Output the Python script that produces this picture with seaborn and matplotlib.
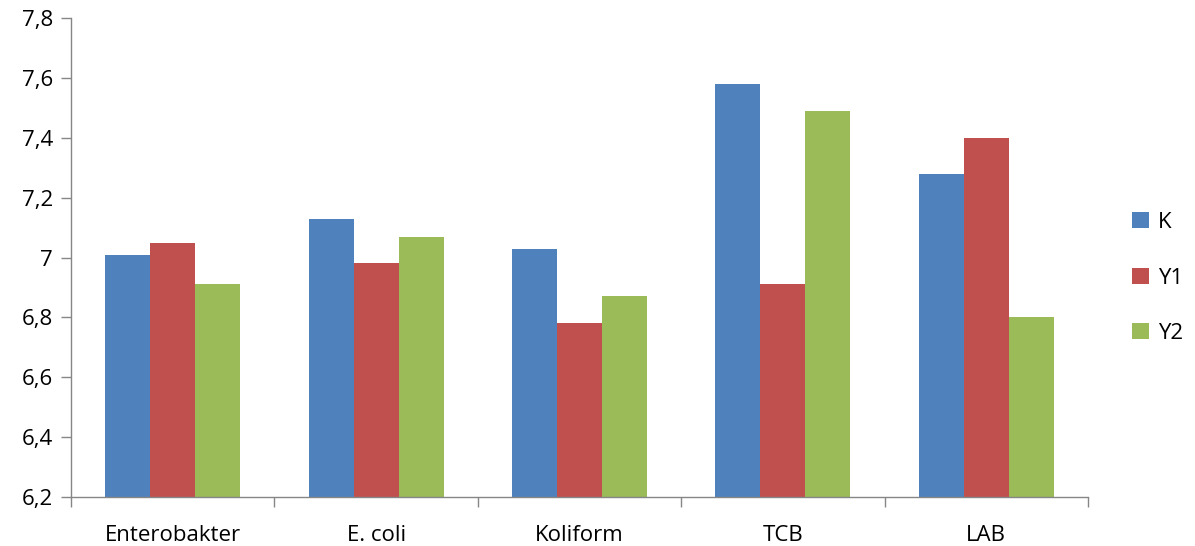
import matplotlib
matplotlib.use("Agg")
import matplotlib.pyplot as plt
import seaborn as sns
import pandas as pd
import numpy as np
from matplotlib.patches import Patch

categories = ["Enterobakter", "E. coli", "Koliform", "TCB", "LAB"]
series = ["K", "Y1", "Y2"]
K = [7.01, 7.13, 7.03, 7.58, 7.28]
Y1 = [7.05, 6.98, 6.78, 6.91, 7.40]
Y2 = [6.91, 7.07, 6.87, 7.49, 6.80]
yticks = [6.2, 6.4, 6.6, 6.8, 7.0, 7.2, 7.4, 7.6, 7.8]
ytick_labels = ["6,2", "6,4", "6,6", "6,8", "7", "7,2", "7,4", "7,6", "7,8"]
colors = ["#4F81BD", "#C0504D", "#9BBB59"]

rows = []
for s, vals in zip(series, [K, Y1, Y2]):
    for c, v in zip(categories, vals):
        rows.append({"cat": c, "series": s, "value": v})
df = pd.DataFrame(rows)

sns.set_style("white")
plt.rcParams["font.family"] = ["Open Sans", "DejaVu Sans"]
plt.rcParams["text.color"] = "black"
plt.rcParams["xtick.color"] = "black"
plt.rcParams["ytick.color"] = "black"

fig = plt.figure(figsize=(11.95, 5.46), dpi=100)
ax = fig.add_axes([71/1195, 1-497/546, (1088-71)/1195, (497-18)/546])
sns.barplot(data=df, x="cat", y="value", hue="series", palette=colors,
            width=0.664, gap=0, ax=ax, legend=False, saturation=1,
            edgecolor="none", linewidth=0)

ax.set_ylim(6.2, 7.8)
ax.set_xlim(-0.5, len(categories) - 0.5)
ax.set_yticks(yticks)
ax.set_yticklabels(ytick_labels, fontsize=16, color="black")
ax.set_xticks(range(len(categories)))
ax.set_xticklabels(categories, fontsize=16, color="black")
ax.set_xticks(np.arange(-0.5, len(categories), 1.0), minor=True)
ax.tick_params(axis="x", which="major", length=0, pad=20)
ax.tick_params(axis="x", which="minor", length=7, color="#868686", width=1,
               direction="out", bottom=True)
ax.tick_params(axis="y", which="major", length=7, color="#868686", width=1,
               direction="out", pad=6, left=True, labelcolor="black")
ax.set_xlabel("")
ax.set_ylabel("")
for side in ["top", "right"]:
    ax.spines[side].set_visible(False)
for side in ["left", "bottom"]:
    ax.spines[side].set_color("#868686")
    ax.spines[side].set_linewidth(1)

handles = [Patch(facecolor=c, edgecolor="none", label=s) for c, s in zip(colors, series)]
leg = fig.legend(handles=handles, loc="center left", bbox_to_anchor=(1112/1195, 1-278/546),
                 frameon=False, fontsize=16, handlelength=0.75, handleheight=0.75,
                 handletextpad=0.4, labelspacing=1.55)
for t in leg.get_texts():
    t.set_color("black")

fig.savefig("out.png", dpi=100)
